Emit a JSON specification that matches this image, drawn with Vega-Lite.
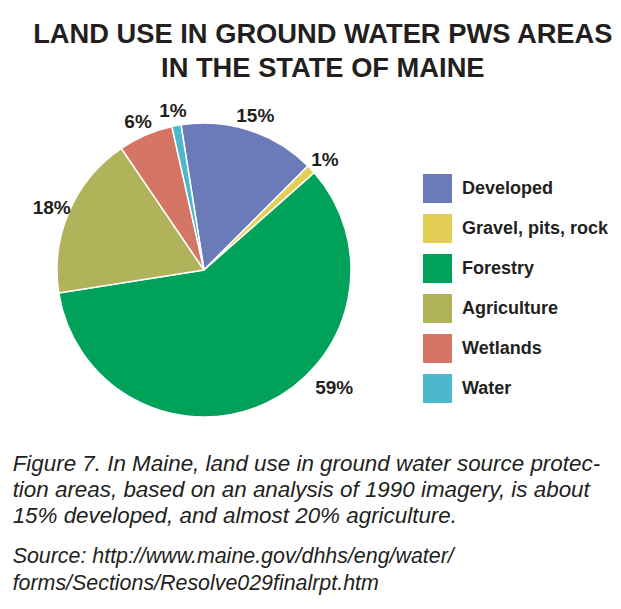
{
  "$schema": "https://vega.github.io/schema/vega-lite/v6.json",
  "background": "white",
  "padding": {"left": 12, "top": 20, "right": 5, "bottom": 5},
  "title": {
    "text": ["LAND USE IN GROUND WATER PWS AREAS", "IN THE STATE OF MAINE"],
    "font": "Liberation Sans",
    "fontSize": 27.3,
    "fontWeight": "bold",
    "lineHeight": 34,
    "color": "#231f20",
    "anchor": "middle",
    "dx": 12,
    "offset": -14
  },
  "config": {"view": {"stroke": null}},
  "vconcat": [
    {
      "width": 300,
      "height": 300,
      "title": {
        "text": [
          "Figure 7. In Maine, land use in ground water source protec-",
          "tion areas, based on an analysis of 1990 imagery, is about",
          "15% developed, and almost 20% agriculture."
        ],
        "subtitle": ["Source: http://www.maine.gov/dhhs/eng/water/", "forms/Sections/Resolve029finalrpt.htm"],
        "orient": "bottom",
        "anchor": "start",
        "dx": -20,
        "offset": 19,
        "font": "Liberation Sans",
        "fontSize": 22.4,
        "fontStyle": "italic",
        "fontWeight": "normal",
        "lineHeight": 26,
        "color": "#231f20",
        "subtitleFont": "Liberation Sans",
        "subtitleFontSize": 21.4,
        "subtitleFontStyle": "italic",
        "subtitleColor": "#231f20",
        "subtitleLineHeight": 27,
        "subtitlePadding": 18
      },
      "data": {
        "values": [
          {"category": "Developed", "value": 15, "label": "15%", "order": 1},
          {"category": "Gravel, pits, rock", "value": 1, "label": "1%", "order": 2},
          {"category": "Forestry", "value": 59, "label": "59%", "order": 3},
          {"category": "Agriculture", "value": 18, "label": "18%", "order": 4},
          {"category": "Wetlands", "value": 6, "label": "6%", "order": 5},
          {"category": "Water", "value": 1, "label": "1%", "order": 6}
        ]
      },
      "encoding": {
        "theta": {"field": "value", "type": "quantitative", "stack": true, "scale": {"range": [-0.157, 6.126]}},
        "order": {"field": "order", "type": "quantitative"},
        "color": {
          "field": "category",
          "type": "nominal",
          "scale": {
            "domain": ["Developed", "Gravel, pits, rock", "Forestry", "Agriculture", "Wetlands", "Water"],
            "range": ["#6b7bba", "#e3cf55", "#00a259", "#b0b35a", "#d57565", "#4bb8cc"]
          },
          "legend": {
            "title": null,
            "orient": "none",
            "legendX": 369,
            "legendY": 54,
            "padding": 0,
            "symbolType": "square",
            "symbolSize": 841,
            "symbolStrokeWidth": 0,
            "symbolOpacity": 1,
            "rowPadding": 11,
            "labelFont": "Liberation Sans",
            "labelFontSize": 18,
            "labelFontWeight": "bold",
            "labelColor": "#231f20",
            "labelOffset": 10,
            "labelLimit": 300
          }
        }
      },
      "layer": [
        {"mark": {"type": "arc", "outerRadius": 147, "stroke": "white", "strokeWidth": 1.5}},
        {
          "mark": {"type": "text", "radius": 166, "dy": 4, "font": "Liberation Sans", "fontSize": 19, "fontWeight": "bold"},
          "encoding": {
            "text": {"condition": {"test": "datum.category === 'Forestry'", "value": ""}, "field": "label"},
            "color": {"value": "#231f20"}
          }
        },
        {
          "mark": {"type": "text", "radius": 165, "dx": 60, "dy": -31, "font": "Liberation Sans", "fontSize": 19, "fontWeight": "bold"},
          "encoding": {
            "text": {"condition": {"test": "datum.category === 'Forestry'", "field": "label"}, "value": ""},
            "color": {"value": "#231f20"}
          }
        }
      ]
    }
  ]
}
